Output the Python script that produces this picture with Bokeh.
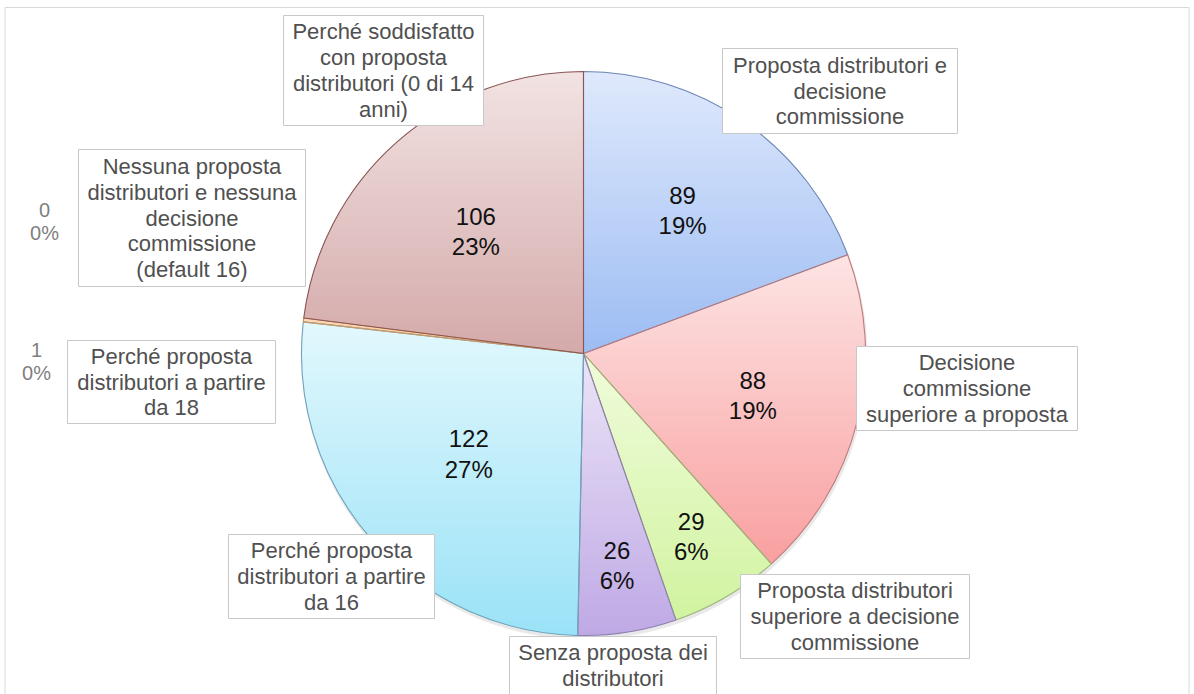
import numpy as np
from bokeh.plotting import figure
from bokeh.models import Range1d, ColumnDataSource
from bokeh.embed import file_html
from bokeh.resources import INLINE
from bokeh.core.properties import value

# ---------------- data ----------------
categories = [
    "Proposta distributori e decisione commissione",
    "Decisione commissione superiore a proposta",
    "Proposta distributori superiore a decisione commissione",
    "Senza proposta dei distributori",
    "Perché proposta distributori a partire da 16",
    "Perché proposta distributori a partire da 18",
    "Nessuna proposta distributori e nessuna decisione commissione (default 16)",
    "Perché soddisfatto con proposta distributori (0 di 14 anni)",
]
counts = [89, 88, 29, 26, 122, 1, 0, 106]
pct_labels = ["19%", "19%", "6%", "6%", "27%", "0%", "0%", "23%"]
category_wrapped = [
    "Proposta distributori e\ndecisione\ncommissione",
    "Decisione\ncommissione\nsuperiore a proposta",
    "Proposta distributori\nsuperiore a decisione\ncommissione",
    "Senza proposta dei\ndistributori",
    "Perché proposta\ndistributori a partire\nda 16",
    "Perché proposta\ndistributori a partire\nda 18",
    "Nessuna proposta\ndistributori e nessuna\ndecisione\ncommissione\n(default 16)",
    "Perché soddisfatto\ncon proposta\ndistributori (0 di 14\nanni)",
]

# ---------------- styles / layout ----------------
grad_top = ["#dfe9fc", "#fde4e4", "#f0fcdb", "#ebe4f7", "#e2f8fd", "#fcdcbc", "#dddddd", "#f2e3e3"]
grad_bot = ["#9cbcf3", "#f9a0a0", "#d1f3a0", "#bfa9e5", "#9ae2f7", "#f9b87c", "#bbbbbb", "#d4a9a9"]
edge_col = ["#6f86b3", "#c07c7c", "#9cb777", "#8f80b2", "#6fa3b9", "#d0965f", "#999999", "#8a5555"]

W, H = 1194, 694
CX, CY, R = 583.0, 353.0, 282.0          # pie centre / radius (screen px)

# label boxes (screen px: left, top, right, bottom), Excel manual layout
label_boxes = [
    (722, 48, 957, 133),
    (856, 346, 1077, 430),
    (740, 574, 969, 658),
    (509, 636, 716, 694),
    (228, 534, 434, 618),
    (67, 340, 275, 423),
    (78, 149, 305, 286),
    (283, 15, 483, 125),
]
# value labels of the tiny slices that are placed outside the pie
outside_value_pos = {5: (36, 361), 6: (44, 221)}


def Y(y):
    return H - y


def hex2rgb(h):
    h = h.lstrip("#")
    return np.array([int(h[i:i + 2], 16) for i in (0, 2, 4)], dtype=float)


def mix(c1, c2, t):
    c = hex2rgb(c1) * (1 - t) + hex2rgb(c2) * t
    return "#%02x%02x%02x" % tuple(int(round(v)) for v in c)


def clip_half(pts, yc, sign):
    out = []
    n = len(pts)
    for i in range(n):
        a = pts[i]
        b = pts[(i + 1) % n]
        da = sign * (a[1] - yc)
        db = sign * (b[1] - yc)
        if da >= 0:
            out.append(a)
        if (da >= 0) != (db >= 0):
            t = da / (da - db)
            out.append((a[0] + t * (b[0] - a[0]), a[1] + t * (b[1] - a[1])))
    return out


total = float(sum(counts))
cum = np.concatenate([[0.0], np.cumsum(counts)])
th1 = cum[:-1] / total * 2 * np.pi     # clockwise from 12 o'clock
th2 = cum[1:] / total * 2 * np.pi

p = figure(width=W, height=H, x_range=Range1d(0, W), y_range=Range1d(0, H),
           output_backend="svg", toolbar_location=None, min_border=0,
           x_axis_location=None, y_axis_location=None)
p.grid.visible = False
p.outline_line_color = None
p.background_fill_color = "white"
p.border_fill_color = "white"

# chart area border
p.quad(left=[4.5], right=[1188.5], top=[Y(7)], bottom=[Y(705)],
       fill_color=None, line_color="#d9d9d9", line_width=1)

# soft shadow
p.circle(x=[CX + 1], y=[Y(CY + 3)], radius=R + 1, fill_color="#9a9a9a",
         fill_alpha=0.22, line_color=None)

nz = [i for i in range(len(counts)) if counts[i] > 0]

# base wedges
wsrc = ColumnDataSource(dict(
    start=[np.pi / 2 - th2[i] for i in nz],
    end=[np.pi / 2 - th1[i] for i in nz],
    fill=[mix(grad_top[i], grad_bot[i], 0.5) for i in nz],
    line=[edge_col[i] for i in nz],
    cat=[categories[i] for i in nz],
    count=[counts[i] for i in nz],
))
p.wedge(x=CX, y=Y(CY), radius=R, start_angle="start", end_angle="end",
        fill_color="fill", line_color=None, source=wsrc)

# vertical gradient bands inside each slice
bxs, bys, bcol = [], [], []
for i in nz:
    ang = np.linspace(th1[i], th2[i], max(8, int((th2[i] - th1[i]) * 120)))
    poly = [(CX, CY)] + [(CX + R * np.sin(a), CY - R * np.cos(a)) for a in ang]
    ys_ = [q[1] for q in poly]
    ymin, ymax = min(ys_), max(ys_)
    nb = max(3, int((ymax - ymin) / 3))
    h = (ymax - ymin) / nb
    for k in range(nb):
        ya = ymin + k * h
        yb = ya + h + 0.9
        part = clip_half(poly, ya, 1)
        if len(part) < 3:
            continue
        part = clip_half(part, yb, -1)
        if len(part) < 3:
            continue
        bxs.append([q[0] for q in part])
        bys.append([Y(q[1]) for q in part])
        bcol.append(mix(grad_top[i], grad_bot[i], (k + 0.5) / nb))
p.patches(xs="xs", ys="ys", fill_color="c", line_color=None,
          source=ColumnDataSource(dict(xs=bxs, ys=bys, c=bcol)))

# slice outlines
p.wedge(x=CX, y=Y(CY), radius=R, start_angle="start", end_angle="end",
        fill_color=None, line_color="line", line_width=1.1, source=wsrc)

# value + percentage labels inside slices
vx, vy, vt = [], [], []
for i in nz:
    if i in outside_value_pos:
        continue
    mid = (th1[i] + th2[i]) / 2
    span = np.degrees(th2[i] - th1[i])
    f = 0.82 - 0.00293 * span
    vx.append(CX + f * R * np.sin(mid))
    vy.append(Y(CY - f * R * np.cos(mid)))
    vt.append(f"{counts[i]}\n{pct_labels[i]}")
p.text(x="x", y="y", text="t", source=ColumnDataSource(dict(x=vx, y=vy, t=vt)),
       text_font=value("Liberation Sans"), text_font_size="24px",
       text_color="#111111", text_align="center", text_baseline="middle",
       text_line_height=1.12)

# value labels of tiny slices (outside)
ox, oy, ot = [], [], []
for i, (x, y) in outside_value_pos.items():
    ox.append(x)
    oy.append(Y(y))
    ot.append(f"{counts[i]}\n{pct_labels[i]}")
p.text(x="x", y="y", text="t", source=ColumnDataSource(dict(x=ox, y=oy, t=ot)),
       text_font=value("Liberation Sans"), text_font_size="20px",
       text_color="#7f7f7f", text_align="center", text_baseline="middle",
       text_line_height=1.08)

# category label boxes
p.quad(left=[b[0] for b in label_boxes], right=[b[2] for b in label_boxes],
       top=[Y(b[1]) for b in label_boxes], bottom=[Y(b[3]) for b in label_boxes],
       fill_color="white", line_color="#c8c8c8", line_width=1)
p.text(x=[(b[0] + b[2]) / 2 for b in label_boxes],
       y=[Y((b[1] + b[3]) / 2) for b in label_boxes],
       text=category_wrapped,
       text_font=value("Liberation Sans"), text_font_size="22px",
       text_color="#505050", text_align="center", text_baseline="middle",
       text_line_height=1.03)

open("out.html", "w").write(file_html(p, INLINE))
